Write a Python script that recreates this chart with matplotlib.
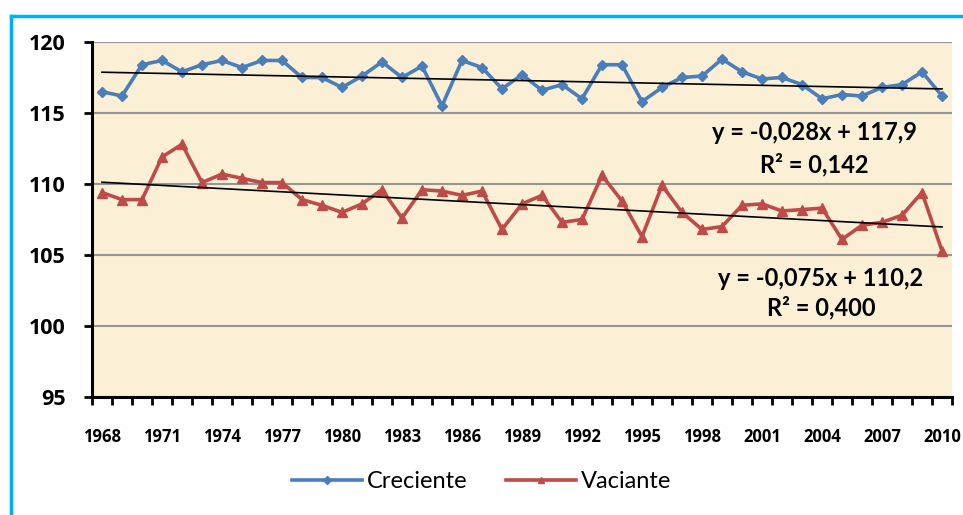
import numpy as np
import matplotlib
matplotlib.use('Agg')
import matplotlib.pyplot as plt
from matplotlib.lines import Line2D

# datos
years = list(range(1968, 2011))
creciente = [116.5, 116.2, 118.4, 118.7, 117.9, 118.4, 118.7, 118.2, 118.7, 118.7,
             117.5, 117.5, 116.8, 117.6, 118.6, 117.5, 118.3, 115.5, 118.7, 118.2,
             116.7, 117.7, 116.6, 117.0, 116.0, 118.4, 118.4, 115.8, 116.8, 117.5,
             117.6, 118.8, 117.9, 117.4, 117.5, 117.0, 116.0, 116.3, 116.2, 116.8,
             117.0, 117.9, 116.2]
vaciante = [109.4, 108.9, 108.9, 111.9, 112.8, 110.1, 110.7, 110.4, 110.1, 110.1,
            108.9, 108.5, 108.0, 108.6, 109.6, 107.6, 109.6, 109.5, 109.2, 109.5,
            106.8, 108.6, 109.2, 107.3, 107.5, 110.6, 108.8, 106.3, 109.9, 108.0,
            106.8, 107.0, 108.5, 108.6, 108.1, 108.2, 108.3, 106.1, 107.1, 107.3,
            107.8, 109.4, 105.3]
# tendencias lineales (x = 1..43)
trend_c = (-0.028, 117.9)
trend_v = (-0.075, 110.2)
eq_c = ["y = -0,028x + 117,9", "R² = 0,142"]
eq_v = ["y = -0,075x + 110,2", "R² = 0,400"]

blue = '#4A7EBB'
red = '#BE4B48'
fam = ['Lato', 'DejaVu Sans']
fam_ticks = ['Open Sans', 'DejaVu Sans']

fig = plt.figure(figsize=(9.63, 5.15), dpi=100)
ax = fig.add_axes([92/963, 1-397/515, 860/963, 355/515])
ax.set_facecolor('#FBEFD6')

x = np.arange(len(years))
ax.plot(x, creciente, color=blue, lw=2.6, marker='D', ms=5.5, label='Creciente', zorder=3)
ax.plot(x, vaciante, color=red, lw=2.6, marker='^', ms=6.5, label='Vaciante', zorder=3)

xt = x + 1
ax.plot(x, trend_c[0]*xt + trend_c[1], color='black', lw=1.2, zorder=4)
ax.plot(x, trend_v[0]*xt + trend_v[1], color='black', lw=1.2, zorder=4)

ax.set_xlim(-0.5, len(years) - 0.5)
ax.set_ylim(95, 120)
ax.tick_params(axis='x', which='major', length=0, pad=22)
ax.tick_params(axis='x', which='minor', length=6, width=2, direction='out')
ax.tick_params(axis='y', length=6, width=2, direction='out', pad=13)
yt = list(range(95, 121, 5))
ax.set_yticks(yt)
ax.set_xticks(x[::3])
ax.set_xticks(np.arange(-0.5, len(years), 1), minor=True)
ax.set_yticklabels([str(v) for v in yt])
ax.set_xticklabels([str(y) for y in years[::3]])
for lab in ax.get_yticklabels():
    lab.set_fontproperties({'family': fam_ticks, 'weight': 'bold', 'size': 15.5})
for lab in ax.get_xticklabels():
    lab.set_fontproperties({'family': fam_ticks, 'weight': 'bold', 'size': 12})

ax.grid(axis='y', color='#969696', lw=1.5)
ax.set_axisbelow(True)
ax.spines['right'].set_visible(False)
ax.spines['top'].set_visible(False)
ax.spines['left'].set_linewidth(2.2)
ax.spines['bottom'].set_linewidth(2.2)
ax.axhline(120, color='#969696', lw=1.5, zorder=1)

ann = dict(ha='center', va='center', fontsize=17, fontweight='bold',
           family=fam, transform=fig.transFigure)
fig.text(814/963, 1-133/515, eq_c[0], **ann)
fig.text(814/963, 1-165/515, eq_c[1], **ann)
fig.text(821/963, 1-278/515, eq_v[0], **ann)
fig.text(821/963, 1-308/515, eq_v[1], **ann)

leg = fig.legend(loc='center', bbox_to_anchor=(0.5, 1-482/515), ncol=2, frameon=False,
                 prop={'family': fam, 'size': 17},
                 handlelength=3.0, columnspacing=1.6, handletextpad=0.2, markerscale=0.7)

# borde azul
fig.add_artist(Line2D([11/963, 1], [1-16/515, 1-16/515], color='#00B0F0', lw=2.5))
fig.add_artist(Line2D([11/963, 11/963], [0, 1-16/515], color='#00B0F0', lw=2.5))

fig.savefig('out.png', dpi=100)
